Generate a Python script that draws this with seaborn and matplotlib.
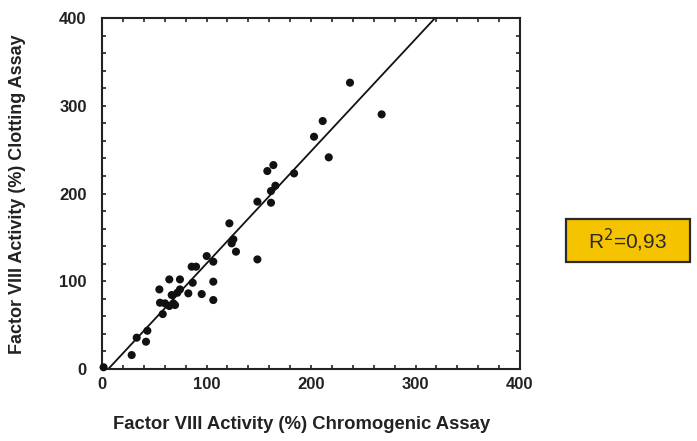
import matplotlib
matplotlib.use("Agg")
import matplotlib.pyplot as plt
import seaborn as sns
import pandas as pd
from matplotlib.patches import Rectangle
from matplotlib.ticker import MultipleLocator

# Data
chromogenic = [237.3, 267.6, 211.2, 202.9, 217.0, 183.8, 158.2, 164.0, 165.9, 161.7,
               161.7, 148.7, 121.9, 125.7, 124.1, 128.2, 148.7, 100.2, 106.5, 85.8,
               90.0, 106.5, 86.8, 106.5, 95.4, 82.6, 74.6, 64.4, 74.6, 54.9,
               55.5, 60.3, 66.7, 68.3, 64.4, 69.9, 72.1, 58.1, 33.2, 43.4,
               42.1, 28.4, 1.5]
clotting = [326.3, 290.2, 282.6, 264.7, 241.2, 222.9, 225.6, 232.4, 208.9, 202.8,
            189.5, 190.7, 166.0, 147.7, 143.2, 133.7, 124.9, 128.7, 122.3, 116.6,
            116.6, 99.5, 98.3, 78.6, 85.4, 86.2, 90.7, 102.1, 102.1, 90.7,
            75.5, 74.8, 84.3, 74.8, 71.8, 72.9, 86.9, 62.6, 35.7, 43.6,
            31.1, 15.9, 2.0]
fit_slope = 1.279
fit_intercept = -7.7
r2_label = "R$^2$=0,93"
xlabel = "Factor VIII Activity (%) Chromogenic Assay"
ylabel = "Factor VIII Activity (%) Clotting Assay"
ticks = [0, 100, 200, 300, 400]

df = pd.DataFrame({"chromogenic": chromogenic, "clotting": clotting})

sns.set_style("white")
plt.rcParams["font.family"] = ["Liberation Sans", "DejaVu Sans"]

fig = plt.figure(figsize=(6.97, 4.41), dpi=100)
ax = fig.add_axes([102 / 697, 1 - 369 / 441, 418 / 697, 351 / 441])

sns.scatterplot(data=df, x="chromogenic", y="clotting", ax=ax, color="#111111",
                s=34, edgecolor="none", linewidth=0, clip_on=False, zorder=3)
ax.axline((0, fit_intercept), slope=fit_slope, color="#111111", linewidth=1.3, zorder=2)

ax.set_xlim(0, 400)
ax.set_ylim(0, 400)
ax.set_xticks(ticks)
ax.set_yticks(ticks)
ax.xaxis.set_minor_locator(MultipleLocator(20))
ax.yaxis.set_minor_locator(MultipleLocator(20))
ax.tick_params(which="both", direction="in", top=True, right=True, bottom=True, left=True,
               length=3, width=1.2, color="#222222")
ax.tick_params(axis="x", which="major", pad=6, labelsize=12, labelcolor="#222222")
ax.tick_params(axis="y", which="major", pad=11, labelsize=12, labelcolor="#222222")
for lab in ax.get_xticklabels() + ax.get_yticklabels():
    lab.set_fontweight("bold")
for sp in ax.spines.values():
    sp.set_visible(True)
    sp.set_color("#222222")
    sp.set_linewidth(1.5)

ax.set_xlabel(xlabel, fontsize=13.3, fontweight="bold", color="#222222")
ax.set_ylabel(ylabel, fontsize=13, fontweight="bold", color="#222222")
ax.xaxis.set_label_coords((302 - 102) / 418, (369 - 416) / 351)
ax.yaxis.set_label_coords((26 - 102) / 418, (369 - 194) / 351)

# R² box
bx0, by0, bw, bh = 566 / 697, 1 - 262 / 441, 124 / 697, 43 / 441
fig.patches.append(Rectangle((bx0, by0), bw, bh, transform=fig.transFigure,
                             facecolor="#F6C300", edgecolor="#2a2a2a", linewidth=1.6))
fig.text(bx0 + bw / 2, by0 + bh / 2, r2_label, ha="center", va="center",
         fontsize=15, color="#2a2a2a")

fig.savefig("out.png", dpi=100)
